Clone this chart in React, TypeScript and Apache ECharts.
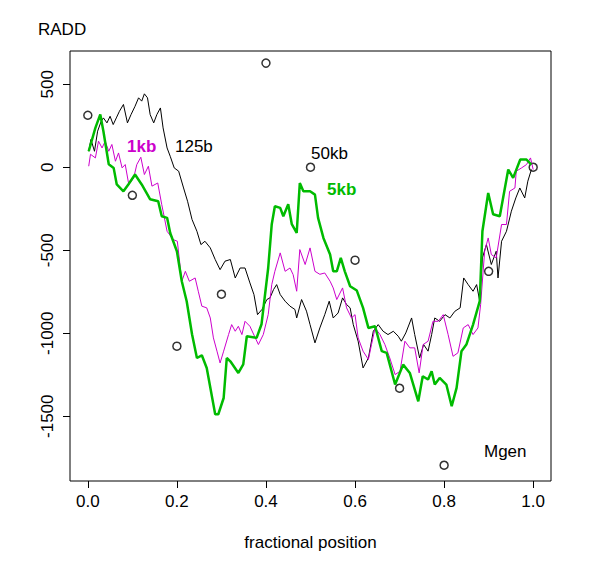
import { useEffect, useRef } from "react";
import * as echarts from "echarts";

// Mgen points (open circles)
const mgen: [number, number][] = [
  [0.0, 313], [0.1, -169], [0.2, -1078], [0.3, -765], [0.4, 627],
  [0.5, 0], [0.6, -560], [0.7, -1331], [0.8, -1795], [0.9, -627], [1.0, 0],
];

// 125b (black)
const b125: [number, number][] = [
  [0.002, 96], [0.007, 167], [0.015, 96], [0.022, 217], [0.03, 277], [0.035, 297],
  [0.043, 267], [0.05, 307], [0.057, 257], [0.064, 297], [0.071, 337], [0.08, 378],
  [0.089, 267], [0.097, 317], [0.106, 367], [0.114, 418], [0.121, 398], [0.127, 442],
  [0.134, 418], [0.14, 317], [0.148, 267], [0.155, 317], [0.163, 357], [0.169, 237],
  [0.178, 116], [0.185, 66], [0.194, -4], [0.204, -24], [0.215, -125], [0.224, -205],
  [0.234, -315], [0.245, -386], [0.254, -466], [0.263, -446], [0.275, -486], [0.286, -556],
  [0.297, -617], [0.308, -566], [0.32, -556], [0.331, -667], [0.342, -607], [0.353, -607],
  [0.364, -697], [0.373, -767], [0.381, -888], [0.391, -857], [0.402, -797], [0.409, -787],
  [0.417, -737], [0.424, -707], [0.432, -767], [0.443, -807], [0.454, -837], [0.465, -857],
  [0.469, -908], [0.48, -797], [0.491, -867], [0.499, -948], [0.51, -1058], [0.521, -968],
  [0.532, -888], [0.542, -807], [0.551, -908], [0.562, -878], [0.572, -787], [0.581, -827],
  [0.589, -847], [0.596, -948], [0.607, -1048], [0.618, -1209], [0.63, -1149], [0.641, -988],
  [0.652, -948], [0.663, -988], [0.674, -1008], [0.686, -988], [0.697, -1018], [0.704, -1048],
  [0.714, -998], [0.727, -908], [0.734, -1008], [0.745, -1149], [0.754, -1068], [0.764, -1108],
  [0.772, -1008], [0.779, -908], [0.79, -928], [0.802, -888], [0.813, -908], [0.824, -868],
  [0.836, -847], [0.844, -667], [0.854, -707], [0.865, -747], [0.873, -707], [0.88, -807],
  [0.886, -546], [0.895, -466], [0.906, -586], [0.917, -506], [0.921, -667], [0.929, -446],
  [0.94, -386], [0.951, -265], [0.961, -185], [0.97, -125], [0.981, -185], [0.988, -84],
  [0.996, -14],
];

// 1kb (magenta)
const kb1: [number, number][] = [
  [0.002, 6], [0.006, 78], [0.017, 56], [0.024, 157], [0.032, 116], [0.039, 157],
  [0.047, 96], [0.054, 137], [0.062, 36], [0.069, 86], [0.077, -4], [0.084, 16],
  [0.092, -104], [0.103, -64], [0.11, 16], [0.119, 60], [0.127, -44], [0.136, 6],
  [0.144, -114], [0.157, -95], [0.166, -225], [0.178, -386], [0.192, -436], [0.201, -446],
  [0.211, -687], [0.219, -627], [0.228, -687], [0.241, -667], [0.248, -747], [0.256, -837],
  [0.267, -847], [0.275, -908], [0.282, -1028], [0.29, -1108], [0.297, -1179], [0.305, -1108],
  [0.316, -1008], [0.323, -948], [0.331, -988], [0.338, -958], [0.346, -1008], [0.353, -928],
  [0.364, -958], [0.376, -1028], [0.383, -1068], [0.394, -1008], [0.405, -888], [0.413, -707],
  [0.42, -627], [0.432, -516], [0.443, -627], [0.454, -607], [0.461, -647], [0.469, -747],
  [0.476, -496], [0.488, -586], [0.499, -486], [0.51, -627], [0.521, -645], [0.532, -637],
  [0.544, -687], [0.551, -727], [0.559, -797], [0.572, -727], [0.581, -847], [0.592, -908],
  [0.6, -888], [0.607, -1028], [0.618, -1108], [0.63, -1158], [0.637, -1068], [0.645, -968],
  [0.656, -1008], [0.667, -1068], [0.678, -1149], [0.69, -1249], [0.701, -1229], [0.712, -1048],
  [0.723, -1088], [0.734, -1088], [0.744, -1239], [0.753, -1068], [0.764, -1048], [0.775, -928],
  [0.787, -928], [0.798, -888], [0.809, -1008], [0.82, -1139], [0.831, -1118], [0.843, -968],
  [0.854, -948], [0.865, -1008], [0.876, -968], [0.882, -827], [0.891, -506], [0.899, -426],
  [0.906, -526], [0.917, -546], [0.929, -345], [0.94, -345], [0.947, -145], [0.959, -125],
  [0.962, -24], [0.974, -4], [0.985, 16], [0.994, 56], [1.0, -14],
];

// 5kb (green)
const kb5: [number, number][] = [
  [0.002, 96], [0.017, 237], [0.028, 318], [0.035, 217], [0.047, 18], [0.058, -4],
  [0.065, -104], [0.08, -145], [0.091, -104], [0.106, -44], [0.121, -104], [0.14, -193],
  [0.158, -205], [0.166, -295], [0.178, -305], [0.185, -396], [0.2, -506], [0.211, -687],
  [0.222, -807], [0.234, -1006], [0.245, -1149], [0.256, -1133], [0.267, -1209], [0.286, -1488],
  [0.293, -1488], [0.305, -1390], [0.312, -1149], [0.32, -1169], [0.338, -1239], [0.349, -1187],
  [0.357, -1018], [0.379, -1028], [0.39, -946], [0.405, -607], [0.413, -343], [0.42, -235],
  [0.432, -245], [0.439, -295], [0.45, -223], [0.458, -343], [0.469, -396], [0.476, -95],
  [0.484, -145], [0.499, -145], [0.51, -165], [0.517, -305], [0.529, -426], [0.544, -526],
  [0.551, -627], [0.559, -627], [0.568, -546], [0.577, -627], [0.589, -717], [0.604, -743],
  [0.618, -847], [0.63, -968], [0.645, -958], [0.66, -1108], [0.671, -1118], [0.69, -1309],
  [0.708, -1189], [0.723, -1239], [0.742, -1410], [0.752, -1259], [0.764, -1279], [0.772, -1229],
  [0.779, -1309], [0.79, -1269], [0.805, -1309], [0.817, -1440], [0.828, -1329], [0.839, -1108],
  [0.85, -1068], [0.865, -948], [0.88, -807], [0.886, -386], [0.899, -155], [0.91, -283],
  [0.925, -295], [0.944, -14], [0.955, -64], [0.971, 46], [0.985, 46], [0.996, 16],
];

const xTicks = [0, 0.2, 0.4, 0.6, 0.8, 1.0];
const yTicks = [-1500, -1000, -500, 0, 500];

const FONT = "Liberation Sans, Arial, sans-serif";

export default function App() {
  const ref = useRef<HTMLDivElement>(null);

  useEffect(() => {
    if (!ref.current) return;
    const chart = echarts.init(ref.current, undefined, { renderer: "svg" });
    const label = (text: string, x: number, y: number, color = "#000", bold = false) => ({
      type: "text",
      x,
      y,
      style: { text, fill: color, font: `${bold ? "bold " : ""}17px ${FONT}` },
    });
    chart.setOption({
      animation: false,
      backgroundColor: "#fff",
      textStyle: { fontFamily: FONT },
      grid: { left: 70, right: 50, top: 51, bottom: 95, show: true, borderColor: "#000", borderWidth: 1 },
      xAxis: {
        type: "value",
        min: -0.04,
        max: 1.04,
        axisLine: { show: false, onZero: false },
        splitLine: { show: false },
        axisTick: { show: true, length: 7, customValues: xTicks, lineStyle: { color: "#000" } },
        axisLabel: {
          customValues: xTicks,
          color: "#000",
          fontSize: 17,
          margin: 12,
          formatter: (v: number) => v.toFixed(1),
        },
        name: "fractional position",
        nameLocation: "middle",
        nameGap: 53,
        nameTextStyle: { color: "#000", fontSize: 17 },
      },
      yAxis: {
        type: "value",
        min: -1890,
        max: 700,
        axisLine: { show: false, onZero: false },
        splitLine: { show: false },
        axisTick: { show: true, length: 7, customValues: yTicks, lineStyle: { color: "#000" } },
        axisLabel: {
          customValues: yTicks,
          color: "#000",
          fontSize: 17,
          rotate: 90,
          margin: 14,
          formatter: (v: number) => String(v),
        },
      },
      graphic: [
        label("RADD", 38, 21),
        label("1kb", 127, 138, "#cc00cc", true),
        label("125b", 175, 138),
        label("50kb", 311, 145),
        label("5kb", 327, 181, "#00bb00", true),
        label("Mgen", 484, 443),
      ],
      series: [
        { type: "line", data: b125, showSymbol: false, lineStyle: { color: "#000", width: 1 } },
        { type: "line", data: kb1, showSymbol: false, lineStyle: { color: "#cc00cc", width: 1 } },
        { type: "line", data: kb5, showSymbol: false, lineStyle: { color: "#00bb00", width: 2.5 } },
        {
          type: "scatter",
          data: mgen,
          symbol: "circle",
          symbolSize: 8,
          itemStyle: { color: "#fff", borderColor: "#000", borderWidth: 1.5 },
        },
      ],
    });
    return () => chart.dispose();
  }, []);

  return <div ref={ref} style={{ width: 601, height: 576, margin: -8 }} />;
}
